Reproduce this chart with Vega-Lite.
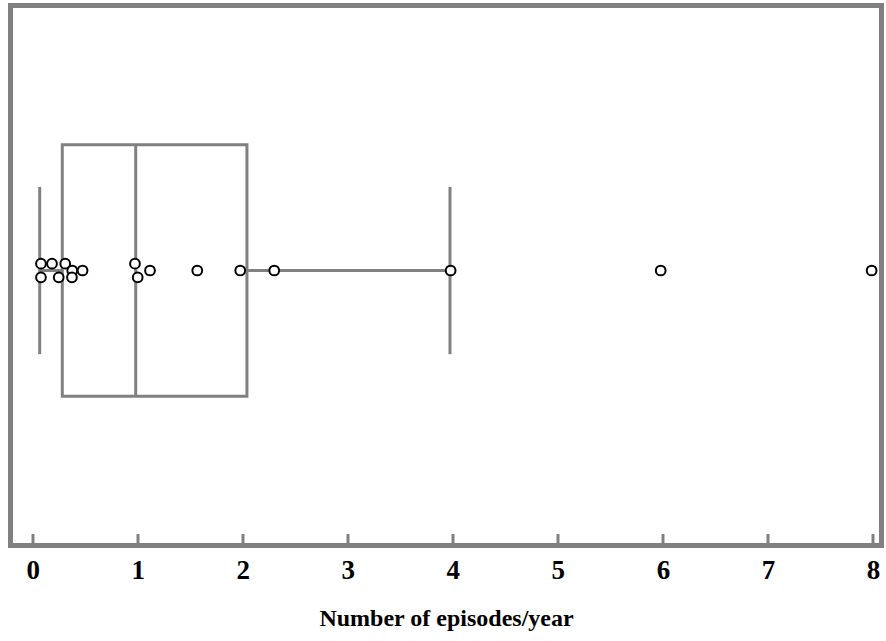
{
  "$schema": "https://vega.github.io/schema/vega-lite/v6.json",
  "autosize": {"type": "none"},
  "padding": {"left": 10.5, "top": 5.5, "right": 4.5, "bottom": 95.5},
  "width": 871,
  "height": 540,
  "background": "white",
  "config": {
    "view": {"stroke": "#808080", "strokeWidth": 5},
    "axis": {"grid": false}
  },
  "datasets": {
    "points": [
      {"episodes": 0.079, "lane": 1},
      {"episodes": 0.184, "lane": 1},
      {"episodes": 0.310, "lane": 1},
      {"episodes": 0.377, "lane": 0},
      {"episodes": 0.475, "lane": 0},
      {"episodes": 0.079, "lane": -1},
      {"episodes": 0.248, "lane": -1},
      {"episodes": 0.374, "lane": -1},
      {"episodes": 0.974, "lane": 1},
      {"episodes": 1.117, "lane": 0},
      {"episodes": 1.000, "lane": -1},
      {"episodes": 1.567, "lane": 0},
      {"episodes": 1.976, "lane": 0},
      {"episodes": 2.300, "lane": 0},
      {"episodes": 3.979, "lane": 0},
      {"episodes": 5.979, "lane": 0},
      {"episodes": 7.987, "lane": 0}
    ],
    "summary": [
      {"lo": 0.067, "q1": 0.282, "median": 0.981, "q3": 2.04, "hi": 3.973}
    ]
  },
  "layer": [
    {
      "data": {"name": "summary"},
      "mark": {"type": "rule", "color": "#808080", "strokeWidth": 3},
      "encoding": {
        "x": {
          "field": "lo",
          "type": "quantitative",
          "scale": {"domain": [-0.211, 8.081], "nice": false, "zero": false},
          "axis": {
            "values": [0, 1, 2, 3, 4, 5, 6, 7, 8],
            "format": "d",
            "domain": false,
            "tickSize": -12,
            "tickWidth": 3,
            "tickColor": "#808080",
            "labelFont": "Liberation Serif",
            "labelFontWeight": "bold",
            "labelFontSize": 27,
            "labelColor": "black",
            "labelPadding": 24,
            "title": "Number of episodes/year",
            "titleFont": "Liberation Serif",
            "titleFontWeight": "bold",
            "titleFontSize": 24,
            "titleColor": "black",
            "titlePadding": 23
          }
        },
        "x2": {"field": "q1"},
        "y": {
          "datum": 0,
          "type": "quantitative",
          "scale": {"domain": [-40.44, 38.97], "nice": false, "zero": false},
          "axis": null
        }
      }
    },
    {
      "data": {"name": "summary"},
      "mark": {"type": "rule", "color": "#808080", "strokeWidth": 3},
      "encoding": {
        "x": {"field": "q3", "type": "quantitative"},
        "x2": {"field": "hi"},
        "y": {"datum": 0, "type": "quantitative"}
      }
    },
    {
      "data": {"name": "summary"},
      "mark": {"type": "rule", "color": "#808080", "strokeWidth": 3},
      "encoding": {
        "x": {"field": "lo", "type": "quantitative"},
        "y": {"datum": -12.3, "type": "quantitative"},
        "y2": {"datum": 12.3}
      }
    },
    {
      "data": {"name": "summary"},
      "mark": {"type": "rule", "color": "#808080", "strokeWidth": 3},
      "encoding": {
        "x": {"field": "hi", "type": "quantitative"},
        "y": {"datum": -12.3, "type": "quantitative"},
        "y2": {"datum": 12.3}
      }
    },
    {
      "data": {"name": "summary"},
      "mark": {"type": "rect", "fillOpacity": 0, "stroke": "#808080", "strokeWidth": 3},
      "encoding": {
        "x": {"field": "q1", "type": "quantitative"},
        "x2": {"field": "q3"},
        "y": {"datum": -18.5, "type": "quantitative"},
        "y2": {"datum": 18.5}
      }
    },
    {
      "data": {"name": "summary"},
      "mark": {"type": "rule", "color": "#808080", "strokeWidth": 3},
      "encoding": {
        "x": {"field": "median", "type": "quantitative"},
        "y": {"datum": -18.5, "type": "quantitative"},
        "y2": {"datum": 18.5}
      }
    },
    {
      "data": {"name": "points"},
      "mark": {"type": "point", "shape": "circle", "filled": true, "fill": "white", "stroke": "black", "strokeWidth": 2, "size": 95, "opacity": 1},
      "encoding": {
        "x": {"field": "episodes", "type": "quantitative"},
        "y": {"field": "lane", "type": "quantitative"}
      }
    }
  ]
}
